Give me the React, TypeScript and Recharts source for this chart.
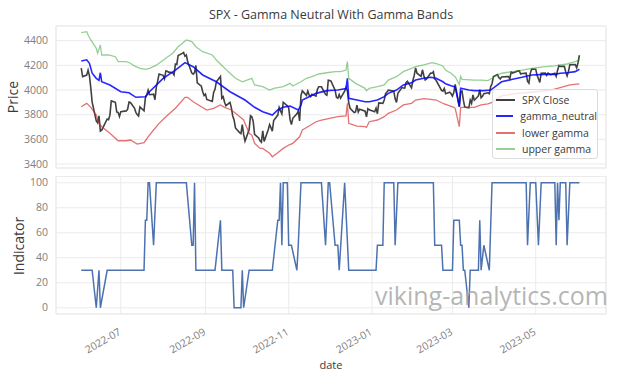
import React from 'react';
import { LineChart, Line, XAxis, YAxis, CartesianGrid } from 'recharts';

// SPX daily closes
const spxDates = [
  '2022-06-02', '2022-06-03', '2022-06-06', '2022-06-07', '2022-06-08', '2022-06-09', '2022-06-10', '2022-06-13', '2022-06-14', '2022-06-15',
  '2022-06-16', '2022-06-17', '2022-06-21', '2022-06-22', '2022-06-23', '2022-06-24', '2022-06-27', '2022-06-28', '2022-06-29', '2022-06-30',
  '2022-07-01', '2022-07-05', '2022-07-06', '2022-07-07', '2022-07-08', '2022-07-11', '2022-07-12', '2022-07-13', '2022-07-14', '2022-07-15',
  '2022-07-18', '2022-07-19', '2022-07-20', '2022-07-21', '2022-07-22', '2022-07-25', '2022-07-26', '2022-07-27', '2022-07-28', '2022-07-29',
  '2022-08-01', '2022-08-02', '2022-08-03', '2022-08-04', '2022-08-05', '2022-08-08', '2022-08-09', '2022-08-10', '2022-08-11', '2022-08-12',
  '2022-08-15', '2022-08-16', '2022-08-17', '2022-08-18', '2022-08-19', '2022-08-22', '2022-08-23', '2022-08-24', '2022-08-25', '2022-08-26',
  '2022-08-29', '2022-08-30', '2022-08-31', '2022-09-01', '2022-09-02', '2022-09-06', '2022-09-07', '2022-09-08', '2022-09-09', '2022-09-12',
  '2022-09-13', '2022-09-14', '2022-09-15', '2022-09-16', '2022-09-19', '2022-09-20', '2022-09-21', '2022-09-22', '2022-09-23', '2022-09-26',
  '2022-09-27', '2022-09-28', '2022-09-29', '2022-09-30', '2022-10-03', '2022-10-04', '2022-10-05', '2022-10-06', '2022-10-07', '2022-10-10',
  '2022-10-11', '2022-10-12', '2022-10-13', '2022-10-14', '2022-10-17', '2022-10-18', '2022-10-19', '2022-10-20', '2022-10-21', '2022-10-24',
  '2022-10-25', '2022-10-26', '2022-10-27', '2022-10-28', '2022-10-31', '2022-11-01', '2022-11-02', '2022-11-03', '2022-11-04', '2022-11-07',
  '2022-11-08', '2022-11-09', '2022-11-10', '2022-11-11', '2022-11-14', '2022-11-15', '2022-11-16', '2022-11-17', '2022-11-18', '2022-11-21',
  '2022-11-22', '2022-11-23', '2022-11-25', '2022-11-28', '2022-11-29', '2022-11-30', '2022-12-01', '2022-12-02', '2022-12-05', '2022-12-06',
  '2022-12-07', '2022-12-08', '2022-12-09', '2022-12-12', '2022-12-13', '2022-12-14', '2022-12-15', '2022-12-16', '2022-12-19', '2022-12-20',
  '2022-12-21', '2022-12-22', '2022-12-23', '2022-12-27', '2022-12-28', '2022-12-29', '2022-12-30', '2023-01-03', '2023-01-04', '2023-01-05',
  '2023-01-06', '2023-01-09', '2023-01-10', '2023-01-11', '2023-01-12', '2023-01-13', '2023-01-17', '2023-01-18', '2023-01-19', '2023-01-20',
  '2023-01-23', '2023-01-24', '2023-01-25', '2023-01-26', '2023-01-27', '2023-01-30', '2023-01-31', '2023-02-01', '2023-02-02', '2023-02-03',
  '2023-02-06', '2023-02-07', '2023-02-08', '2023-02-09', '2023-02-10', '2023-02-13', '2023-02-14', '2023-02-15', '2023-02-16', '2023-02-17',
  '2023-02-21', '2023-02-22', '2023-02-23', '2023-02-24', '2023-02-27', '2023-02-28', '2023-03-01', '2023-03-02', '2023-03-03', '2023-03-06',
  '2023-03-07', '2023-03-08', '2023-03-09', '2023-03-10', '2023-03-13', '2023-03-14', '2023-03-15', '2023-03-16', '2023-03-17', '2023-03-20',
  '2023-03-21', '2023-03-22', '2023-03-23', '2023-03-24', '2023-03-27', '2023-03-28', '2023-03-29', '2023-03-30', '2023-03-31', '2023-04-03',
  '2023-04-04', '2023-04-05', '2023-04-06', '2023-04-10', '2023-04-11', '2023-04-12', '2023-04-13', '2023-04-14', '2023-04-17', '2023-04-18',
  '2023-04-19', '2023-04-20', '2023-04-21', '2023-04-24', '2023-04-25', '2023-04-26', '2023-04-27', '2023-04-28', '2023-05-01', '2023-05-02',
  '2023-05-03', '2023-05-04', '2023-05-05', '2023-05-08', '2023-05-09', '2023-05-10', '2023-05-11', '2023-05-12', '2023-05-15', '2023-05-16',
  '2023-05-17', '2023-05-18', '2023-05-19', '2023-05-22', '2023-05-23', '2023-05-24', '2023-05-25', '2023-05-26', '2023-05-30', '2023-05-31',
  '2023-06-01', '2023-06-02',
];
const spxClose = [
  4177, 4109, 4121, 4161, 4116, 4018, 3901, 3750, 3735, 3790, 3667, 3675, 3765, 3760, 3796, 3912, 3900, 3822, 3819, 3785,
  3825, 3831, 3845, 3903, 3899, 3854, 3819, 3802, 3790, 3863, 3831, 3937, 3960, 3999, 3962, 3967, 3921, 4024, 4072, 4130,
  4119, 4091, 4155, 4152, 4145, 4140, 4122, 4210, 4207, 4280, 4297, 4305, 4274, 4284, 4228, 4138, 4129, 4141, 4199, 4058,
  4031, 3986, 3955, 3967, 3924, 3908, 3980, 4006, 4067, 4110, 3933, 3946, 3901, 3873, 3900, 3856, 3790, 3758, 3693, 3655,
  3647, 3719, 3640, 3586, 3678, 3791, 3783, 3745, 3640, 3612, 3589, 3577, 3670, 3583, 3678, 3720, 3695, 3666, 3753, 3797,
  3859, 3831, 3807, 3901, 3872, 3856, 3760, 3720, 3771, 3807, 3828, 3749, 3956, 3993, 3957, 3992, 3959, 3947, 3965, 3950,
  4004, 4027, 4026, 3964, 3958, 4080, 4077, 4072, 3999, 3941, 3934, 3964, 3934, 3991, 4020, 3995, 3896, 3852, 3818, 3822,
  3878, 3822, 3845, 3829, 3783, 3849, 3840, 3824, 3853, 3808, 3895, 3892, 3919, 3970, 3983, 3999, 3991, 3929, 3899, 3973,
  4020, 4017, 4016, 4060, 4071, 4018, 4077, 4119, 4180, 4136, 4111, 4164, 4118, 4082, 4090, 4137, 4136, 4148, 4090, 4079,
  3997, 3991, 4012, 3970, 3982, 3970, 3951, 3981, 4046, 3865, 3986, 3992, 3918, 3862, 3856, 3919, 3892, 3960, 3917, 3952,
  4003, 3937, 3949, 3971, 3978, 3971, 4028, 4051, 4109, 4125, 4101, 4090, 4105, 4109, 4109, 4092, 4146, 4138, 4151, 4155,
  4155, 4130, 4134, 4137, 4072, 4056, 4135, 4169, 4168, 4120, 4091, 4061, 4136, 4138, 4119, 4138, 4131, 4124, 4136, 4110,
  4159, 4198, 4192, 4193, 4146, 4115, 4151, 4205, 4206, 4180, 4221, 4282,
];

// gamma_neutral
const neutralDates = [
  '2022-06-02', '2022-06-06', '2022-06-08', '2022-06-10', '2022-06-13', '2022-06-15', '2022-06-16', '2022-06-17', '2022-06-23', '2022-07-01',
  '2022-07-07', '2022-07-12', '2022-07-19', '2022-07-22', '2022-08-01', '2022-08-10', '2022-08-17', '2022-08-23', '2022-08-30', '2022-09-09',
  '2022-09-19', '2022-09-30', '2022-10-07', '2022-10-13', '2022-10-20', '2022-10-24', '2022-10-28', '2022-11-02', '2022-11-08', '2022-11-10',
  '2022-11-11', '2022-11-16', '2022-11-21', '2022-11-29', '2022-12-07', '2022-12-13', '2022-12-14', '2022-12-15', '2022-12-21', '2022-12-27',
  '2022-12-30', '2023-01-05', '2023-01-10', '2023-01-13', '2023-01-19', '2023-01-24', '2023-01-30', '2023-02-02', '2023-02-08', '2023-02-13',
  '2023-02-17', '2023-02-22', '2023-02-24', '2023-02-28', '2023-03-03', '2023-03-06', '2023-03-07', '2023-03-13', '2023-03-17', '2023-03-24',
  '2023-03-29', '2023-04-03', '2023-04-06', '2023-04-14', '2023-04-21', '2023-04-28', '2023-05-08', '2023-05-15', '2023-05-19', '2023-05-24',
  '2023-05-30', '2023-06-02',
];
const gammaNeutral = [
  4235, 4245, 4217, 4136, 4095, 4078, 4140, 4067, 4041, 3986,
  3978, 3941, 3946, 3986, 4095, 4162, 4222, 4189, 4122, 4067,
  3986, 3919, 3860, 3824, 3797, 3838, 3860, 3870, 3838, 3878,
  3919, 3946, 3973, 3995, 4000, 4012, 4095, 3933, 3919, 3905,
  3905, 3919, 3946, 3973, 4000, 4041, 4059, 4081, 4095, 4103,
  4095, 4067, 4050, 4035, 4025, 3865, 4014, 4000, 3995, 3995,
  4000, 4041, 4067, 4087, 4103, 4122, 4127, 4127, 4136, 4140,
  4149, 4168,
];

// lower gamma
const lowerDates = [
  '2022-06-02', '2022-06-06', '2022-06-09', '2022-06-13', '2022-06-15', '2022-06-17', '2022-06-23', '2022-06-29', '2022-07-05', '2022-07-08',
  '2022-07-13', '2022-07-18', '2022-07-21', '2022-07-25', '2022-07-29', '2022-08-03', '2022-08-10', '2022-08-17', '2022-08-19', '2022-08-23',
  '2022-08-29', '2022-09-02', '2022-09-07', '2022-09-12', '2022-09-15', '2022-09-20', '2022-09-23', '2022-09-29', '2022-10-03', '2022-10-05',
  '2022-10-07', '2022-10-11', '2022-10-13', '2022-10-18', '2022-10-20', '2022-10-24', '2022-10-28', '2022-11-01', '2022-11-04', '2022-11-09',
  '2022-11-11', '2022-11-16', '2022-11-21', '2022-11-25', '2022-12-01', '2022-12-07', '2022-12-13', '2022-12-14', '2022-12-15', '2022-12-21',
  '2022-12-27', '2022-12-28', '2022-12-30', '2023-01-05', '2023-01-10', '2023-01-13', '2023-01-19', '2023-01-24', '2023-01-30', '2023-02-02',
  '2023-02-08', '2023-02-13', '2023-02-17', '2023-02-23', '2023-03-02', '2023-03-03', '2023-03-06', '2023-03-07', '2023-03-17', '2023-03-22',
  '2023-03-27', '2023-03-30', '2023-04-06', '2023-04-18', '2023-05-02', '2023-05-12', '2023-05-17', '2023-05-26', '2023-06-02',
];
const lowerGamma = [
  3865, 3892, 3860, 3797, 3730, 3703, 3649, 3589, 3589, 3595,
  3562, 3573, 3621, 3676, 3730, 3784, 3852, 3941, 3941, 3905,
  3865, 3838, 3852, 3879, 3860, 3838, 3811, 3757, 3649, 3635,
  3568, 3527, 3527, 3487, 3459, 3492, 3527, 3554, 3568, 3621,
  3676, 3708, 3743, 3757, 3771, 3784, 3790, 3892, 3730, 3708,
  3703, 3697, 3743, 3757, 3784, 3811, 3838, 3879, 3892, 3919,
  3930, 3925, 3919, 3887, 3860, 3852, 3703, 3860, 3860, 3879,
  3887, 3900, 3952, 3973, 3986, 4000, 4014, 4041, 4050,
];

// upper gamma
const upperDates = [
  '2022-06-02', '2022-06-06', '2022-06-07', '2022-06-09', '2022-06-13', '2022-06-14', '2022-06-16', '2022-06-17', '2022-06-22', '2022-06-27',
  '2022-06-29', '2022-07-05', '2022-07-08', '2022-07-11', '2022-07-15', '2022-07-19', '2022-07-22', '2022-07-26', '2022-07-29', '2022-08-03',
  '2022-08-08', '2022-08-12', '2022-08-18', '2022-08-22', '2022-08-25', '2022-08-30', '2022-09-06', '2022-09-09', '2022-09-14', '2022-09-19',
  '2022-09-23', '2022-09-28', '2022-10-05', '2022-10-07', '2022-10-13', '2022-10-18', '2022-10-21', '2022-10-28', '2022-11-02', '2022-11-04',
  '2022-11-10', '2022-11-14', '2022-11-18', '2022-11-23', '2022-11-29', '2022-12-05', '2022-12-09', '2022-12-13', '2022-12-14', '2022-12-15',
  '2022-12-20', '2022-12-27', '2022-12-28', '2022-12-30', '2023-01-05', '2023-01-10', '2023-01-13', '2023-01-19', '2023-01-24', '2023-01-30',
  '2023-02-02', '2023-02-08', '2023-02-14', '2023-02-17', '2023-02-22', '2023-02-24', '2023-02-28', '2023-03-02', '2023-03-03', '2023-03-06',
  '2023-03-07', '2023-03-08', '2023-03-17', '2023-03-22', '2023-03-27', '2023-03-30', '2023-04-03', '2023-04-06', '2023-04-14', '2023-04-21',
  '2023-04-28', '2023-05-08', '2023-05-15', '2023-05-19', '2023-05-24', '2023-05-30', '2023-06-02',
];
const upperGamma = [
  4465, 4473, 4446, 4406, 4338, 4298, 4365, 4284, 4284, 4270,
  4230, 4230, 4217, 4195, 4176, 4168, 4176, 4195, 4217, 4257,
  4298, 4351, 4406, 4392, 4351, 4311, 4284, 4243, 4189, 4136,
  4095, 4067, 4095, 4041, 4027, 4000, 4014, 4027, 4054, 4033,
  4067, 4095, 4108, 4130, 4140, 4149, 4149, 4162, 4230, 4095,
  4054, 4014, 3995, 4014, 4027, 4041, 4081, 4108, 4149, 4176,
  4189, 4203, 4222, 4215, 4195, 4160, 4136, 4115, 4108, 4045,
  4110, 4087, 4081, 4081, 4076, 4095, 4122, 4136, 4149, 4162,
  4176, 4189, 4195, 4203, 4211, 4230, 4245,
];

// indicator
const indicatorDates = [
  '2022-06-02', '2022-06-10', '2022-06-13', '2022-06-15', '2022-06-16', '2022-06-21', '2022-07-18', '2022-07-19', '2022-07-20', '2022-07-21',
  '2022-07-22', '2022-07-25', '2022-07-27', '2022-08-18', '2022-08-22', '2022-08-23', '2022-08-24', '2022-08-25', '2022-09-08', '2022-09-12',
  '2022-09-13', '2022-09-21', '2022-09-22', '2022-09-27', '2022-09-28', '2022-09-29', '2022-10-03', '2022-10-20', '2022-10-24', '2022-10-25',
  '2022-10-26', '2022-10-27', '2022-10-28', '2022-10-31', '2022-11-01', '2022-11-03', '2022-11-07', '2022-11-08', '2022-11-10', '2022-11-25',
  '2022-11-28', '2022-11-30', '2022-12-01', '2022-12-05', '2022-12-07', '2022-12-08', '2022-12-12', '2022-12-15', '2023-01-04', '2023-01-05',
  '2023-01-09', '2023-01-10', '2023-01-17', '2023-01-18', '2023-01-20', '2023-02-15', '2023-02-16', '2023-02-21', '2023-02-22', '2023-03-01',
  '2023-03-02', '2023-03-06', '2023-03-07', '2023-03-08', '2023-03-09', '2023-03-10', '2023-03-13', '2023-03-14', '2023-03-20', '2023-03-21',
  '2023-03-22', '2023-03-24', '2023-03-28', '2023-03-30', '2023-04-24', '2023-04-25', '2023-04-27', '2023-05-01', '2023-05-03', '2023-05-05',
  '2023-05-15', '2023-05-16', '2023-05-17', '2023-05-18', '2023-05-19', '2023-05-23', '2023-05-24', '2023-05-26', '2023-06-02',
];
const indicatorValues = [
  30, 30, 0, 30, 0, 30, 30, 70, 70, 100,
  100, 50, 100, 100, 50, 50, 100, 30, 30, 70,
  30, 30, 0, 0, 30, 0, 30, 30, 70, 70,
  100, 50, 100, 100, 50, 50, 30, 50, 100, 100,
  50, 100, 100, 50, 50, 30, 100, 30, 30, 50,
  50, 100, 100, 50, 100, 100, 50, 50, 30, 30,
  70, 70, 50, 50, 30, 30, 0, 30, 30, 70,
  30, 50, 30, 100, 100, 50, 100, 100, 50, 100,
  100, 50, 100, 70, 100, 100, 50, 100, 100,
];

const monthTicks = ['2022-07-01', '2022-09-01', '2022-11-01', '2023-01-01', '2023-03-01', '2023-05-01'];
const priceTicks = [3400, 3600, 3800, 4000, 4200, 4400];
const indicatorTicks = [0, 20, 40, 60, 80, 100];

const toTime = (d: string) => Date.parse(d + 'T00:00:00Z');
const toRows = (dates: string[], values: number[]) => dates.map((d, i) => ({ t: toTime(d), v: values[i] }));

const spxData = toRows(spxDates, spxClose);
const neutralData = toRows(neutralDates, gammaNeutral);
const lowerData = toRows(lowerDates, lowerGamma);
const upperData = toRows(upperDates, upperGamma);
const indicatorData = toRows(indicatorDates, indicatorValues);

const xTicks = monthTicks.map(toTime);
const xDomain = [Date.parse('2022-05-14T12:00:00Z'), Date.parse('2023-06-21T12:00:00Z')];

const FONT = '"Open Sans", sans-serif';
const GRID = '#ebebeb';
const TICK = '#808080';
const LABEL = '#3a3a3a';

const series = [
  { name: 'SPX Close', color: '#000000', opacity: 0.75, width: 1.6, data: spxData },
  { name: 'gamma_neutral', color: '#0000ff', opacity: 0.85, width: 1.6, data: neutralData },
  { name: 'lower gamma', color: '#d62728', opacity: 0.65, width: 1.3, data: lowerData },
  { name: 'upper gamma', color: '#2ca02c', opacity: 0.5, width: 1.3, data: upperData },
];

const fmtMonth = (t: number) => {
  const d = new Date(t);
  return `${d.getUTCFullYear()}-${String(d.getUTCMonth() + 1).padStart(2, '0')}`;
};

// rotated date labels under the lower panel
const DateTick = ({ x, y, payload }: any) => {
  const ay = y + 20;
  return (
    <text
      x={x + 1}
      y={ay}
      textAnchor="end"
      fontSize={10.5}
      fill={TICK}
      fontFamily={FONT}
      transform={`rotate(-30, ${x + 1}, ${ay})`}
    >
      {fmtMonth(payload.value)}
    </text>
  );
};

export default function App() {
  return (
    <div style={{ position: 'absolute', left: 0, top: 0, width: 624, height: 377, background: '#fff', fontFamily: FONT, overflow: 'hidden' }}>
      {/* Price panel */}
      <div style={{ position: 'absolute', left: 0, top: 0 }}>
        <LineChart width={624} height={175} margin={{ top: 26, right: 18, bottom: 7, left: 16 }}>
          <CartesianGrid stroke={GRID} />
          <XAxis
            type="number"
            dataKey="t"
            domain={xDomain}
            ticks={xTicks}
            interval={0}
            allowDataOverflow
            tick={false}
            tickLine={false}
            axisLine={false}
            height={0}
          />
          <YAxis
            type="number"
            domain={[3368, 4519]}
            ticks={priceTicks}
            interval={0}
            allowDataOverflow
            width={40}
            tickSize={0}
            tickMargin={8}
            tickLine={false}
            axisLine={false}
            tick={{ fill: TICK, fontSize: 10.5, fontFamily: FONT }}
          />
          {series.map((s) => (
            <Line
              key={s.name}
              data={s.data}
              dataKey="v"
              name={s.name}
              type="linear"
              stroke={s.color}
              strokeOpacity={s.opacity}
              strokeWidth={s.width}
              dot={false}
              activeDot={false}
              isAnimationActive={false}
            />
          ))}
        </LineChart>
      </div>

      {/* Indicator panel */}
      <div style={{ position: 'absolute', left: 0, top: 170 }}>
        <LineChart width={624} height={207} margin={{ top: 6.5, right: 18, bottom: 0, left: 16 }}>
          <CartesianGrid stroke={GRID} />
          <XAxis
            type="number"
            dataKey="t"
            domain={xDomain}
            ticks={xTicks}
            interval={0}
            allowDataOverflow
            tickLine={false}
            axisLine={false}
            tickSize={0}
            tickMargin={0}
            height={63}
            tick={<DateTick />}
          />
          <YAxis
            type="number"
            domain={[-5, 105]}
            ticks={indicatorTicks}
            interval={0}
            allowDataOverflow
            width={40}
            tickSize={0}
            tickMargin={8}
            tickLine={false}
            axisLine={false}
            tick={{ fill: TICK, fontSize: 10.5, fontFamily: FONT }}
          />
          <Line
            data={indicatorData}
            dataKey="v"
            name="indicator"
            type="linear"
            stroke="#4c72b0"
            strokeWidth={1.5}
            dot={false}
            activeDot={false}
            isAnimationActive={false}
          />
        </LineChart>
      </div>

      {/* figure texts */}
      <svg width={624} height={377} style={{ position: 'absolute', left: 0, top: 0, pointerEvents: 'none' }}>
        <rect x={56} y={26} width={550} height={142} fill="none" stroke={GRID} />
        <rect x={56} y={176.5} width={550} height={137.5} fill="none" stroke={GRID} />
        <text x={331} y={19} textAnchor="middle" fontSize={12.5} fill={LABEL} fontFamily={FONT}>
          SPX - Gamma Neutral With Gamma Bands
        </text>
        <text x={18} y={97} textAnchor="middle" fontSize={14} fill={LABEL} fontFamily={FONT} transform="rotate(-90, 18, 97)">
          Price
        </text>
        <text x={23.5} y={246} textAnchor="middle" fontSize={14} fill={LABEL} fontFamily={FONT} transform="rotate(-90, 23.5, 246)">
          Indicator
        </text>
        <text x={331} y={369} textAnchor="middle" fontSize={11} fill={LABEL} fontFamily={FONT}>
          date
        </text>
        <text x={375} y={305} fontSize={25} fill="#a8a8a8" fillOpacity={0.85} fontFamily={FONT}>
          viking-analytics.com
        </text>
      </svg>

      {/* legend */}
      <div
        style={{
          position: 'absolute',
          left: 492,
          top: 89,
          width: 106,
          height: 70,
          boxSizing: 'border-box',
          background: 'rgba(255,255,255,0.8)',
          border: '1px solid #dcdcdc',
          borderRadius: 3,
          padding: '2px 0 0 3px',
        }}
      >
        {series.map((s) => (
          <div key={s.name} style={{ display: 'flex', alignItems: 'center', height: 16.3 }}>
            <span
              style={{
                display: 'inline-block',
                width: 19,
                height: 0,
                borderTop: `2px solid ${s.color}`,
                opacity: s.opacity,
                marginRight: 7,
              }}
            />
            <span style={{ fontSize: 10.5, color: LABEL, lineHeight: '16px', whiteSpace: 'nowrap' }}>{s.name}</span>
          </div>
        ))}
      </div>
    </div>
  );
}
